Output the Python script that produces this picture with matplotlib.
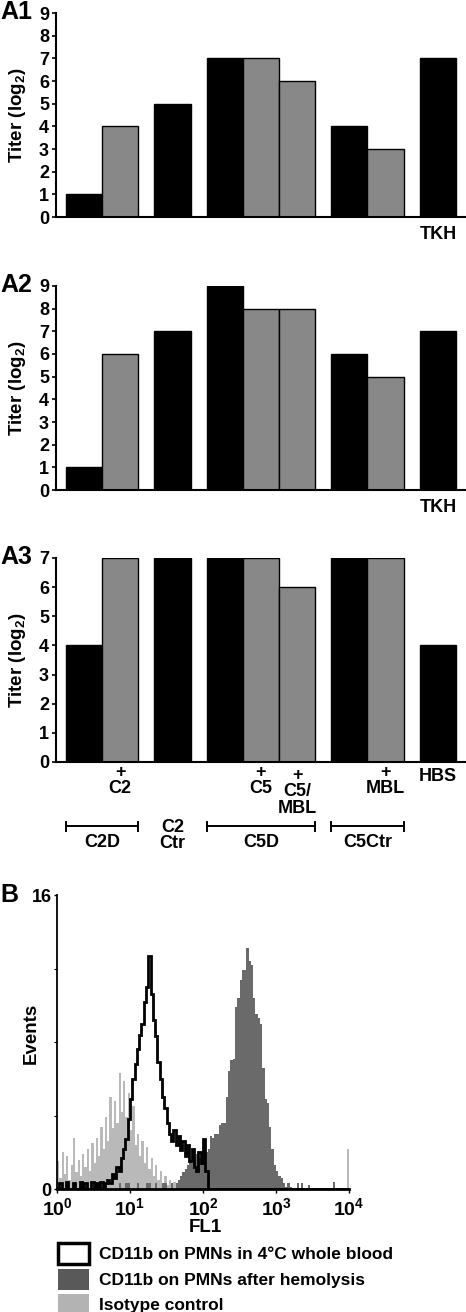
import matplotlib
matplotlib.use("Agg")
import matplotlib.pyplot as plt
from matplotlib.patches import Patch
import numpy as np

plt.rcParams['font.family'] = ['Liberation Sans', 'DejaVu Sans']
plt.rcParams['font.weight'] = 'bold'
plt.rcParams['mathtext.fontset'] = 'custom'
plt.rcParams['mathtext.rm'] = 'Liberation Sans:bold'
plt.rcParams['mathtext.bf'] = 'Liberation Sans:bold'
plt.rcParams['mathtext.default'] = 'rm'

# ---- panel A data: hemolytic titers (log2) ----
group_sizes = [2, 1, 3, 2, 1]
bar_added = [False, True, False, False, True, True, False, True, False]
titer_a1 = [1, 4, 5, 7, 7, 6, 4, 3, 7]
titer_a2 = [1, 6, 7, 9, 8, 8, 6, 5, 7]
titer_a3 = [4, 7, 7, 7, 7, 6, 7, 7, 4]
ymax_a = [9, 9, 7]
last_labels = ["TKH", "TKH", "HBS"]
added_labels = ["", "+\nC2", "", "", "+\nC5", "+\nC5/\nMBL", "", "+\nMBL", ""]
brackets = [("C2D", 0, 1), ("C5D", 3, 5), ("C5Ctr", 6, 7)]
ctr_label = ("C2\nCtr", 2)

# ---- panel B data: flow cytometry histograms (128 log channels, 4 decades) ----
n_channels = 128
iso_start = 0
iso_counts = [1.5, 0.6, 2.0, 0.8, 1.8, 0.5, 1.3, 2.8, 0.9, 1.6, 0.7, 1.9, 1.2, 2.2, 1.0,
              2.5, 1.4, 2.8, 1.8, 3.4, 2.2, 3.9, 2.6, 5.0, 3.3, 4.8, 3.6, 6.3, 4.2, 5.9,
              3.9, 5.2, 3.2, 4.5, 2.4, 3.0, 1.8, 2.6, 1.4, 2.3, 1.1, 1.7, 0.7, 1.3, 0.5,
              1.0, 0.3, 0.7, 0.2, 0.5, 0.1, 0.4, 0.0, 0.3]
iso_tail = {127: 2.2}
cold_start = 0
cold_counts = [0, 0.3, 0, 0, 0.4, 0, 0, 0.3, 0, 0, 0.4, 0, 0.3, 0, 0, 0.4, 0, 0.3, 0, 0.4, 0,
               0.3, 0.5, 0.3, 0.8, 0.6, 1.2, 1.0, 1.7, 2.2, 2.7, 3.8, 4.9, 6.0, 6.8, 7.6,
               8.4, 9.0, 10.2, 11.0, 12.7, 10.6, 9.2, 8.3, 6.9, 6.0, 5.0, 4.4, 3.6, 3.0,
               2.6, 3.2, 2.4, 2.9, 2.1, 2.6, 1.8, 2.4, 1.5, 2.2, 1.2, 1.0, 2.0, 1.4, 2.7, 1.0]
hemo_start = 27
hemo_counts = [0.3, 0, 0, 0.3, 0.3, 0, 0, 0, 0.3, 0, 0, 0, 0.3, 0.3, 0, 0, 0.3, 0, 0, 0.3,
               0.3, 0, 0, 0.3, 0,
               0.3, 0.5, 0.7, 0.9, 1.1, 1.3, 1.5, 1.4, 1.6, 1.9, 1.7, 1.8, 2.0, 2.0, 2.2,
               2.9, 2.8, 3.0, 3.0, 3.5, 3.6, 3.6, 5.0, 6.4, 7.0, 7.1, 9.9, 10.4, 11.4, 11.9,
               11.9, 13.1, 12.4, 12.2, 10.4, 9.5, 9.3, 9.0, 6.6, 4.9, 4.7, 3.4, 2.2, 1.3, 1.0,
               0.7, 0.6, 0.3, 0.1, 0.3, 0.1]
hemo_tail = {105: 0.3, 107: 0.3, 110: 0.2, 121: 0.4}
legend_labels = ["CD11b on PMNs in 4\u00b0C whole blood",
                 "CD11b on PMNs after hemolysis",
                 "Isotype control"]


def channel_array(start, values, extra=None):
    arr = np.zeros(n_channels)
    arr[start:start + len(values)] = values
    for ch, v in (extra or {}).items():
        arr[ch] = v
    return arr


W, H = 466, 1312
fig = plt.figure(figsize=(W / 100, H / 100), dpi=100)


def px_axes(left, top, right, bottom):
    return fig.add_axes([left / W, 1 - bottom / H, (right - left) / W, (bottom - top) / H])


# bar positions: groups separated by a gap
gap = 0.45
lefts = []
pos = 0.0
for size in group_sizes:
    for _ in range(size):
        lefts.append(pos)
        pos += 1
    pos += gap
lefts = np.array(lefts)
centers = lefts + 0.5

fs = 13
tops = [13, 286, 558]
panel_tags = ["A1", "A2", "A3"]
for k, titers in enumerate([titer_a1, titer_a2, titer_a3]):
    ax = px_axes(56, tops[k], 466, tops[k] + 204)
    colors = ["#888888" if a else "black" for a in bar_added]
    ax.bar(lefts, titers, width=1.0, align="edge", color=colors,
           edgecolor="black", linewidth=1.0)
    ax.set_xlim(-0.277, 11.08)
    ax.set_ylim(0, ymax_a[k])
    ax.set_yticks(range(ymax_a[k] + 1))
    ax.set_xticks([])
    for s in ["top", "right"]:
        ax.spines[s].set_visible(False)
    for s in ["left", "bottom"]:
        ax.spines[s].set_linewidth(1.5)
    ax.tick_params(axis="y", length=3, width=1.2, pad=2, labelsize=fs)
    ax.set_ylabel("Titer (log$_2$)", fontsize=13.5, fontweight="bold")
    ax.yaxis.set_label_coords(-0.068, 0.5)
    fig.text(0, 1 - (tops[k] - 1) / H, panel_tags[k], fontsize=18,
             fontweight="bold", ha="left", va="center")
    tr = ax.get_xaxis_transform()
    if k < 2:
        ax.text(centers[-1], -0.086, last_labels[k], transform=tr, ha="center",
                va="center", fontsize=fs)
    else:
        ax.text(centers[-1], -0.069, last_labels[k], transform=tr, ha="center",
                va="center", fontsize=fs)
        for i, lab in enumerate(added_labels):
            if not lab:
                continue
            nlines = lab.count("\n") + 1
            yc = -0.044 - (nlines - 1) * 0.093 / 2 - (0.01 if nlines == 3 else 0)
            ax.text(centers[i], yc, lab, transform=tr, ha="center", va="center",
                    fontsize=fs, linespacing=0.95)
        for name, i0, i1 in brackets:
            x0, x1 = lefts[i0], lefts[i1] + 1
            ax.plot([x0, x1], [-0.314, -0.314], color="black", lw=1.4,
                    transform=tr, clip_on=False)
            for xe in (x0, x1):
                ax.plot([xe, xe], [-0.292, -0.336], color="black", lw=1.4,
                        transform=tr, clip_on=False)
            ax.text((x0 + x1) / 2, -0.397, name, transform=tr, ha="center",
                    va="center", fontsize=fs)
        ax.text(centers[ctr_label[1]], -0.36, ctr_label[0], transform=tr,
                ha="center", va="center", fontsize=fs, linespacing=0.95)

# ---- panel B ----
axb = px_axes(57, 895, 349, 1189)
edges = 10 ** (np.arange(n_channels + 1) / 32)
iso = channel_array(iso_start, iso_counts, iso_tail)
hemo = channel_array(hemo_start, hemo_counts, hemo_tail)
cold = channel_array(cold_start, cold_counts)
axb.stairs(iso, edges, fill=True, color="#b9b9b9", linewidth=0)
axb.stairs(hemo, edges, fill=True, color="#6a6a6a", linewidth=0)
axb.stairs(cold, edges, color="black", linewidth=2.0)
axb.set_xscale("log")
axb.set_xlim(1, 1e4)
axb.set_ylim(0, 16)
axb.set_xticks([1, 10, 100, 1000, 10000])
axb.set_xticklabels([r"$\mathbf{10^{%d}}$" % e for e in range(5)])
axb.xaxis.set_minor_locator(matplotlib.ticker.NullLocator())
axb.set_yticks([0, 16])
axb.set_yticks([4, 8, 12], minor=True)
axb.tick_params(axis="y", which="minor", length=2, width=0.8)
axb.tick_params(axis="y", which="major", length=2, width=1.0, pad=2, labelsize=13)
axb.tick_params(axis="x", length=3, width=1.0, pad=3, labelsize=14)
for s in ["top", "right"]:
    axb.spines[s].set_visible(False)
axb.spines["left"].set_linewidth(1.3)
axb.spines["bottom"].set_linewidth(2.0)
axb.set_ylabel("Events", fontsize=13.5, fontweight="bold")
axb.yaxis.set_label_coords(-0.06, 0.53)
axb.set_xlabel("FL1", fontsize=13.5, fontweight="bold")
axb.xaxis.set_label_coords(0.507, -0.102)
fig.text(0, 1 - 895 / H, "B", fontsize=18, fontweight="bold", ha="left", va="center")

handles = [Patch(facecolor="white", edgecolor="black", linewidth=2.5),
           Patch(facecolor="#595959", edgecolor="none"),
           Patch(facecolor="#b3b3b3", edgecolor="none")]
fig.legend(handles, legend_labels, loc="upper left",
           bbox_to_anchor=(58 / W, 1 - 1243 / H), frameon=False, fontsize=12.5,
           handlelength=1.8, handleheight=1.5, handletextpad=0.55,
           labelspacing=0.25, borderpad=0, borderaxespad=0)

fig.savefig("out.png", dpi=100)
